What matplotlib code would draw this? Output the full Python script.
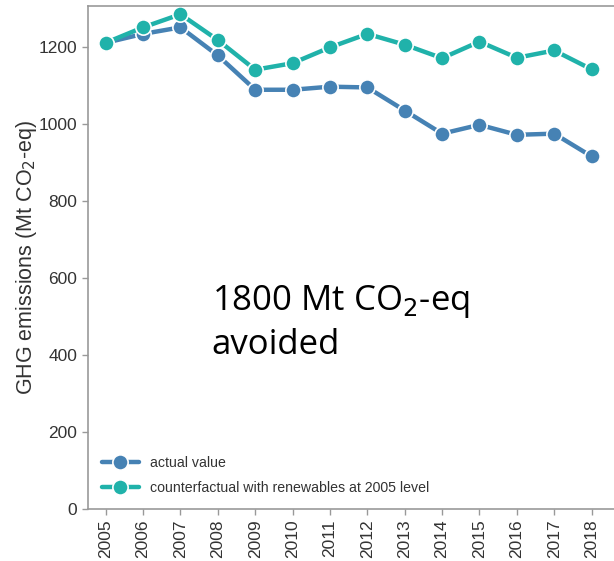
import numpy as np
import matplotlib
matplotlib.use("Agg")
from matplotlib import pyplot as plt
import seaborn as sns

years = list(range(2005, 2019))
actual = [1210, 1233, 1250, 1177, 1088, 1088, 1096, 1094, 1034, 974, 997, 971, 974, 915]
counterfactual = [1210, 1250, 1284, 1217, 1140, 1157, 1198, 1233, 1205, 1170, 1213, 1171, 1190, 1141]

labels = ["actual value", "counterfactual with renewables at 2005 level"]
colors = ["#4682b4", "#20b2aa"]

sns.set_style("ticks")
plt.rcParams['font.family'] = ['Liberation Sans', 'DejaVu Sans']

fig = plt.figure(figsize=(6.14, 5.61), dpi=100)
ax = fig.add_axes([0.143, 0.093, 0.857, 0.896])

for series, lab, col in zip([actual, counterfactual], labels, colors):
    ax.plot(years, series, color=col, lw=3.2, marker="o", markersize=11,
            markeredgecolor="white", markeredgewidth=1.2, label=lab)

ax.set_xlim(2004.52, 2018.6)
ax.set_ylim(0, 1305)
ax.set_xticks(years)
ax.set_xticklabels([str(y) for y in years], rotation=90)
ax.set_yticks([0, 200, 400, 600, 800, 1000, 1200])
ax.tick_params(labelsize=12.5, colors="#333333", length=4, width=1)
ax.tick_params(axis="both", color="#999999")
for s in ax.spines.values():
    s.set_color("#999999")
    s.set_linewidth(1.2)
ax.spines["right"].set_visible(False)

ax.set_ylabel("GHG emissions (Mt CO$_2$-eq)", fontsize=15.5, color="#333333",
              labelpad=0)

ax.text(2007.83, 585, "1800 Mt CO$_2$-eq\navoided", fontsize=25,
        family="Open Sans", color="black", va="top", linespacing=1.27)

ax.legend(loc="lower left", frameon=False, fontsize=10.2, handlelength=2.6,
          labelspacing=0.75, borderaxespad=0.6, labelcolor="#333333")

fig.savefig("out.png", dpi=100)
